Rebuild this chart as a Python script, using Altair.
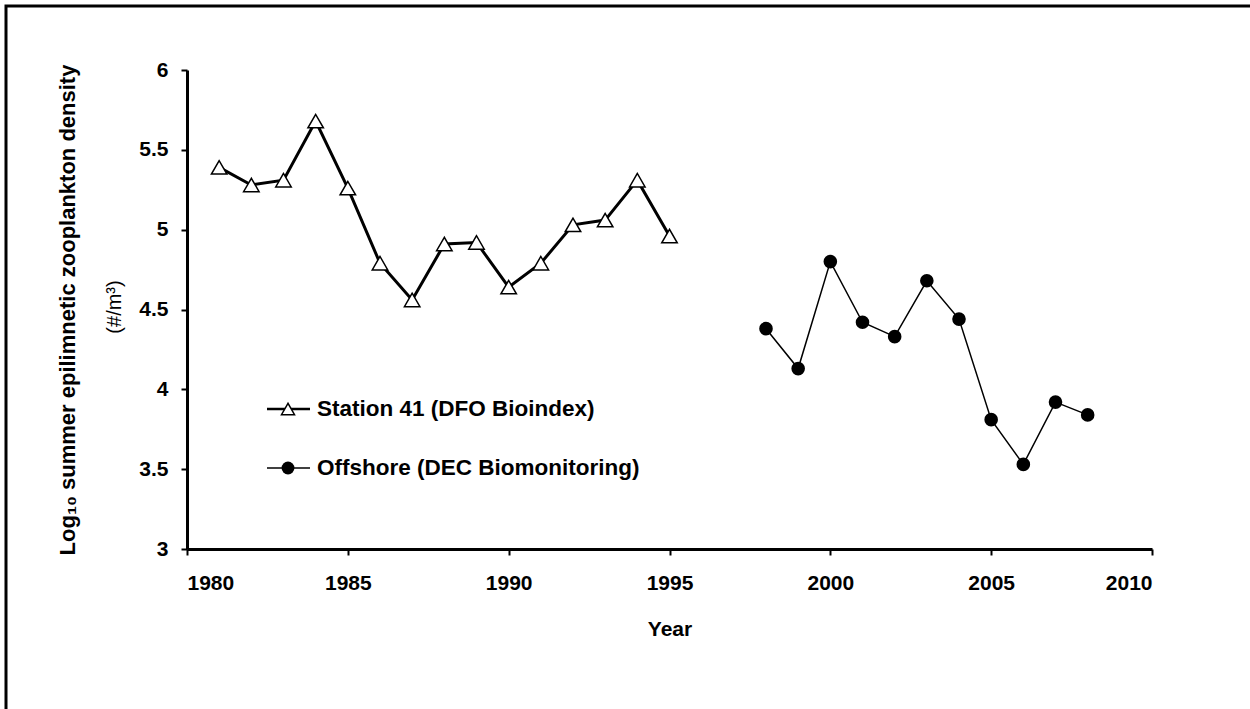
import altair as alt
import pandas as pd

# ---- data ----
station_years = list(range(1981, 1996))
station_values = [5.39, 5.28, 5.31, 5.68, 5.26, 4.79, 4.56, 4.91, 4.92, 4.64, 4.79, 5.03, 5.06, 5.31, 4.96]
offshore_years = list(range(1998, 2009))
offshore_values = [4.38, 4.13, 4.80, 4.42, 4.33, 4.68, 4.44, 3.81, 3.53, 3.92, 3.84]
series_names = ["Station 41 (DFO Bioindex)", "Offshore (DEC Biomonitoring)"]
x_ticks = [1980, 1985, 1990, 1995, 2000, 2005, 2010]
y_ticks = [3, 3.5, 4, 4.5, 5, 5.5, 6]
y_title_lines = ["Log\u2081\u2080 summer epilimnetic zooplankton density", "(#/m\u00b3)"]
x_title = "Year"

W, H = 965, 479
FONT = "Liberation Sans"

station = pd.DataFrame({"year": station_years, "value": station_values})
offshore = pd.DataFrame({"year": offshore_years, "value": offshore_values})

x_enc = alt.X(
    "year:Q",
    scale=alt.Scale(domain=[1980, 2010], nice=False, zero=False),
    axis=alt.Axis(values=x_ticks, format="d", title=x_title, labelPadding=17,
                  titlePadding=25),
)
y_enc = alt.Y(
    "value:Q",
    scale=alt.Scale(domain=[3, 6], nice=False, zero=False),
    axis=alt.Axis(values=y_ticks, format="~g", title=None, labelPadding=13),
)

station_line = alt.Chart(station).mark_line(color="black", strokeWidth=3).encode(x=x_enc, y=y_enc)
station_pts = alt.Chart(station).mark_point(
    shape="triangle-up", filled=True, fill="white", stroke="black",
    strokeWidth=1.5, size=240, opacity=1
).encode(x=x_enc, y=y_enc)

offshore_line = alt.Chart(offshore).mark_line(color="black", strokeWidth=1.5).encode(x=x_enc, y=y_enc)
offshore_pts = alt.Chart(offshore).mark_circle(color="black", size=185, opacity=1).encode(x=x_enc, y=y_enc)

# ---- manual legend ----
def one(label):
    return pd.DataFrame({"label": [label]})

leg_y = [339, 398]
leg1_line = alt.Chart(one(series_names[0])).mark_rule(color="black", strokeWidth=2.5).encode(
    x=alt.value(80), x2=alt.value(123), y=alt.value(leg_y[0]))
leg1_pt = alt.Chart(one(series_names[0])).mark_point(
    shape="triangle-up", filled=True, fill="white", stroke="black", strokeWidth=1.5, size=170, opacity=1
).encode(x=alt.value(101), y=alt.value(leg_y[0]))
leg1_txt = alt.Chart(one(series_names[0])).mark_text(
    align="left", baseline="middle", font=FONT, fontSize=22.5, fontWeight="bold", color="black"
).encode(x=alt.value(130), y=alt.value(leg_y[0]), text="label:N")

leg2_line = alt.Chart(one(series_names[1])).mark_rule(color="black", strokeWidth=1.5).encode(
    x=alt.value(80), x2=alt.value(123), y=alt.value(leg_y[1]))
leg2_pt = alt.Chart(one(series_names[1])).mark_circle(color="black", size=165, opacity=1).encode(
    x=alt.value(101), y=alt.value(leg_y[1]))
leg2_txt = alt.Chart(one(series_names[1])).mark_text(
    align="left", baseline="middle", font=FONT, fontSize=22.5, fontWeight="bold", color="black"
).encode(x=alt.value(130), y=alt.value(leg_y[1]), text="label:N")

# ---- y title, two lines ----
ytitle1 = alt.Chart(one(y_title_lines[0])).mark_text(
    angle=270, align="center", baseline="middle", font=FONT, fontSize=22, fontWeight="bold", color="black"
).encode(x=alt.value(-119), y=alt.value(240), text="label:N")
ytitle2 = alt.Chart(one(y_title_lines[1])).mark_text(
    angle=270, align="center", baseline="middle", font=FONT, fontSize=20, fontWeight="normal", color="black"
).encode(x=alt.value(-72), y=alt.value(237), text="label:N")

# ---- outer frame ----
frame = alt.Chart(one("frame")).mark_rect(
    fillOpacity=0, stroke="black", strokeWidth=3
).encode(x=alt.value(-181), x2=alt.value(W + 300), y=alt.value(-64), y2=alt.value(H + 300))

chart = alt.layer(
    frame, station_line, station_pts, offshore_line, offshore_pts,
    leg1_line, leg1_pt, leg1_txt, leg2_line, leg2_pt, leg2_txt,
    ytitle1, ytitle2,
).properties(
    width=W, height=H,
    padding={"left": 187, "top": 70, "right": 98, "bottom": 160},
    autosize=alt.AutoSizeParams(type="none"),
    background="white",
).configure_view(stroke=None).configure_axis(
    grid=False,
    domainColor="black", domainWidth=3,
    tickColor="black", tickWidth=2, tickSize=6,
    labelColor="black", labelFont=FONT, labelFontSize=21, labelFontWeight="bold",
    titleColor="black", titleFont=FONT, titleFontSize=21, titleFontWeight="bold",
)

chart.save("out.html", embed_options={"renderer": "svg", "actions": False})
